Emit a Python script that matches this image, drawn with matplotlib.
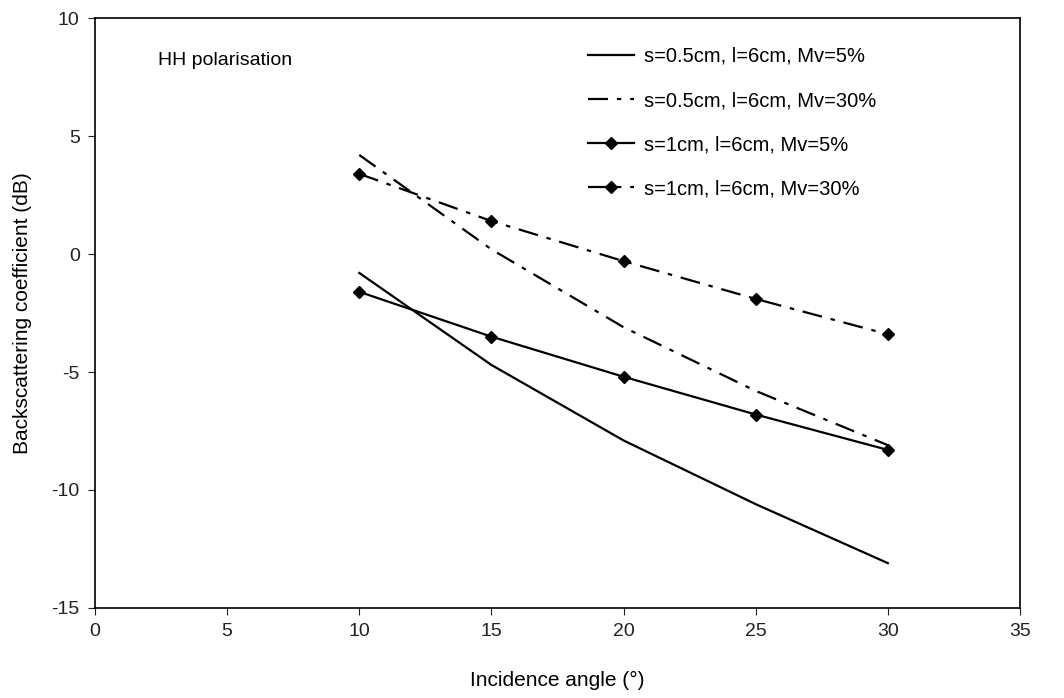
import matplotlib
matplotlib.use('Agg')
import matplotlib.pyplot as plt

plt.rcParams.update({
    'font.family': 'Liberation Sans', 'font.size': 12,
    'axes.unicode_minus': False,
})

angles = [10, 15, 20, 25, 30]
s05_mv5 = [-0.8, -4.7, -7.9, -10.6, -13.1]
s05_mv30 = [4.2, 0.2, -3.1, -5.8, -8.1]
s1_mv5 = [-1.6, -3.5, -5.2, -6.8, -8.3]
s1_mv30 = [3.4, 1.4, -0.3, -1.9, -3.4]

labels = ["s=0.5cm, l=6cm, Mv=5%", "s=0.5cm, l=6cm, Mv=30%",
          "s=1cm, l=6cm, Mv=5%", "s=1cm, l=6cm, Mv=30%"]

dashdot = (0, (9, 4, 2, 4))

fig = plt.figure(figsize=(10.64, 6.98), dpi=100)
ax = fig.add_axes([0.0893, 0.129, 0.8693, 0.845])

ax.plot(angles, s05_mv5, color='black', lw=1.6, label=labels[0])
ax.plot(angles, s05_mv30, color='black', lw=1.6, ls=dashdot, label=labels[1])
ax.plot(angles, s1_mv5, color='black', lw=1.6, marker='D', ms=6, label=labels[2])
ax.plot(angles, s1_mv30, color='black', lw=1.6, ls=dashdot, marker='D', ms=6, label=labels[3])

ax.set_xlim(0, 35)
ax.set_ylim(-15, 10)
ax.set_xticks(range(0, 36, 5))
ax.set_yticks(range(-15, 11, 5))
ax.tick_params(direction='out', length=5, labelsize=14, colors='#222222', pad=6)
for sp in ax.spines.values():
    sp.set_linewidth(1.2)

ax.set_xlabel('Incidence angle (°)', fontsize=15, labelpad=22)
ax.set_ylabel('Backscattering coefficient (dB)', fontsize=15, labelpad=14)
ax.text(2.4, 8.2, 'HH polarisation', fontsize=14, va='center')

ax.legend(loc='upper left', bbox_to_anchor=(0.513, 0.982), frameon=False,
          fontsize=14.5, handlelength=2.3, handletextpad=0.5, labelspacing=1.25)

fig.savefig('out.png', dpi=100)
